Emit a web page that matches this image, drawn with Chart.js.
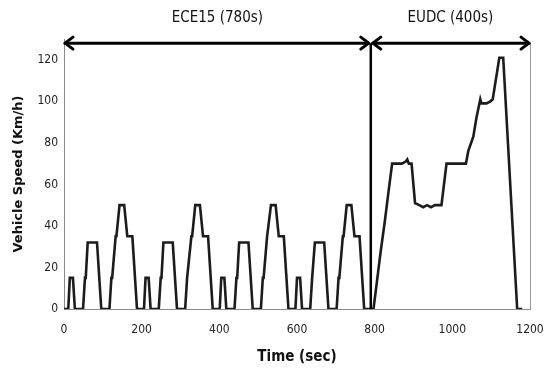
<!DOCTYPE html>
<html><head><meta charset="utf-8">
<script src="https://cdn.jsdelivr.net/npm/chart.js@4"></script>
<style>html,body{margin:0;padding:0;background:#fff}</style>
</head><body>
<canvas id="c" width="547" height="370"></canvas>
<script>
const timeSec = [
  0,11,15,23,28,49,54,56,61,85,96,117,122,124,133,135,143,155,163,176,188,
  195,206,210,218,223,244,249,251,256,280,291,312,317,319,328,330,338,350,358,371,383,
  390,401,405,413,418,439,444,446,451,475,486,507,512,514,523,525,533,545,553,566,578,
  585,596,600,608,613,634,639,641,646,670,681,702,707,709,718,720,728,740,748,761,773,
  780,797,805,815,826,836,845,870,880,884,888,895,904,915,925,935,945,955,972,985,1035,1041,1054,1062,1072,1075,1088,1098,1104,1121,1131,1167,1180
];
const speedKmh = [
  0,0,15,15,0,0,15,15,32,32,0,0,15,15,35,35,50,50,35,35,0,
  0,0,15,15,0,0,15,15,32,32,0,0,15,15,35,35,50,50,35,35,0,
  0,0,15,15,0,0,15,15,32,32,0,0,15,15,35,35,50,50,35,35,0,
  0,0,15,15,0,0,15,15,32,32,0,0,15,15,35,35,50,50,35,35,0,
  0,0,12,27,42,57,70,70,71,72,70,70,51,50,49,50,49,50,50,70,70,76,83,92,101,99,99,100,101,121,121,0,0
];
const xTicks = [0,200,400,600,800,1000,1200];
const yTicks = [0,20,40,60,80,100,120];
const phaseBounds = [0,790,1200];
const phaseLabels = ['ECE15 (780s)','EUDC (400s)'];
const arrowLevel = [128];

const narrow = '"Liberation Sans Narrow","DejaVu Sans Condensed","DejaVu Sans",sans-serif';

const annot = {
  id:'annot',
  afterDatasetsDraw(chart){
    const {ctx, scales:{x,y}, chartArea} = chart;
    const ay = y.getPixelForValue(arrowLevel[0]);
    const y0 = y.getPixelForValue(0);
    const bx = phaseBounds.map(v=>x.getPixelForValue(v));
    ctx.save();
    ctx.strokeStyle='#9a9a9a'; ctx.lineWidth=1;
    ctx.beginPath(); ctx.moveTo(Math.round(chartArea.right)+0.5, ay); ctx.lineTo(Math.round(chartArea.right)+0.5, y0); ctx.stroke();
    ctx.strokeStyle='#000'; ctx.lineWidth=2.5;
    ctx.beginPath(); ctx.moveTo(bx[1], ay); ctx.lineTo(bx[1], y0); ctx.stroke();
    ctx.lineWidth=3; ctx.lineCap='round'; ctx.lineJoin='round';
    for(let i=0;i<phaseLabels.length;i++){
      const a = bx[i] + (i===0?1:2), b = bx[i+1] - (i===phaseLabels.length-1?1:2);
      ctx.beginPath(); ctx.moveTo(a, ay); ctx.lineTo(b, ay); ctx.stroke();
      ctx.beginPath(); ctx.moveTo(a+8, ay-6); ctx.lineTo(a, ay); ctx.lineTo(a+8, ay+6); ctx.stroke();
      ctx.beginPath(); ctx.moveTo(b-8, ay-6); ctx.lineTo(b, ay); ctx.lineTo(b-8, ay+6); ctx.stroke();
      ctx.fillStyle='#111'; ctx.font='condensed 15px '+narrow; ctx.textAlign='center'; ctx.textBaseline='middle';
      ctx.fillText(phaseLabels[i], (bx[i]+bx[i+1])/2, chartArea.top-21);
    }
    ctx.restore();
  }
};

new Chart(document.getElementById('c'), {
  type:'line',
  data:{datasets:[{
    data: timeSec.map((t,i)=>({x:t,y:speedKmh[i]})),
    borderColor:'#1c1c1c', borderWidth:2.6, pointRadius:0, tension:0, fill:false
  }]},
  options:{
    responsive:false, animation:false, devicePixelRatio:1,
    layout:{padding:{top:39,right:17,left:0,bottom:0}},
    plugins:{legend:{display:false}, tooltip:{enabled:false}},
    scales:{
      x:{type:'linear', min:0, max:1200,
        afterBuildTicks:s=>{s.ticks=xTicks.map(v=>({value:v}));},
        afterFit:s=>{s.height=61; s.paddingLeft=0; s.paddingRight=0;},
        grid:{display:false, drawTicks:false},
        border:{display:true, color:'#8a8a8a', width:1},
        ticks:{padding:14, color:'#222', font:{family:narrow, size:12, style:'condensed'}, maxRotation:0, callback:v=>String(v)},
        title:{display:true, text:'Time (sec)', color:'#111', font:{family:narrow, size:15, weight:'bold', style:'condensed'}, padding:{top:0,bottom:4}}
      },
      y:{min:0, max:130,
        afterBuildTicks:s=>{s.ticks=yTicks.map(v=>({value:v}));},
        afterFit:s=>{s.width=64; s.paddingTop=0; s.paddingBottom=0;},
        grid:{display:false, drawTicks:false},
        border:{display:true, color:'#8a8a8a', width:1},
        ticks:{padding:6, color:'#222', font:{family:narrow, size:12, style:'condensed'}, callback:v=>String(v)},
        title:{display:true, text:'Vehicle Speed (Km/h)', color:'#111', font:{family:'"DejaVu Sans",sans-serif', size:13, weight:'bold'}, padding:{top:11,bottom:0}}
      }
    }
  },
  plugins:[annot]
});
</script>
</body></html>
